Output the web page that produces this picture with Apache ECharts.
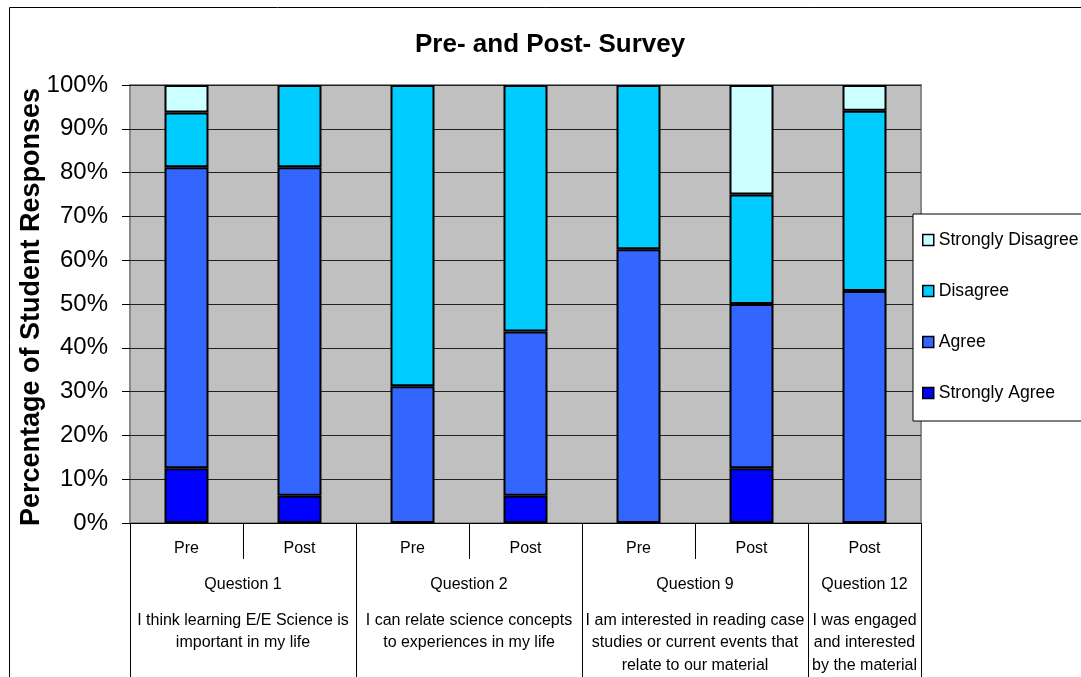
<!DOCTYPE html>
<html>
<head>
<meta charset="utf-8">
<script src="https://cdn.jsdelivr.net/npm/echarts@6/dist/echarts.min.js"></script>
<style>
html,body{margin:0;padding:0;background:#fff;}
#chart{width:1081px;height:677px;}
</style>
</head>
<body>
<div id="chart"></div>
<script>
// ---- data ----
const categories = ['Pre', 'Post', 'Pre', 'Post', 'Pre', 'Post', 'Post'];
const questionLabels = ['Question 1', 'Question 2', 'Question 9', 'Question 12'];
const questionTexts = [
  'I think learning E/E Science is\nimportant in my life',
  'I can relate science concepts\nto experiences in my life',
  'I am interested in reading case\nstudies or current events that\nrelate to our material',
  'I was engaged\nand interested\nby the material'
];
const groupSizes = [2, 2, 2, 1];
const seriesNames = ['Strongly Agree', 'Agree', 'Disagree', 'Strongly Disagree'];
const stronglyAgree    = [12.5, 6.25, 0, 6.25, 0, 12.5, 0];
const agree            = [68.75, 75, 31.25, 37.5, 62.5, 37.5, 52.94];
const disagree         = [12.5, 18.75, 68.75, 56.25, 37.5, 25, 41.18];
const stronglyDisagree = [6.25, 0, 0, 0, 0, 25, 5.88];
const yTicks = [0, 10, 20, 30, 40, 50, 60, 70, 80, 90, 100];

// ---- derived group positions (in category units) ----
const boundaries = [0];
const centers = [];
groupSizes.forEach(function (s) {
  const start = boundaries[boundaries.length - 1];
  centers.push(start + s / 2);
  boundaries.push(start + s);
});
function groupIndex(v) {
  for (let i = 0; i < centers.length; i++) if (Math.abs(centers[i] - v) < 1e-6) return i;
  return -1;
}

const colors = ['#0000ff', '#3366ff', '#00ccff', '#ccffff'];
const values = [stronglyAgree, agree, disagree, stronglyDisagree];
const FONT = 'Liberation Sans, Arial, sans-serif';

const chart = echarts.init(document.getElementById('chart'), null, {renderer: 'canvas'});

const series = seriesNames.map(function (name, i) {
  return {
    name: name,
    type: 'bar',
    stack: 'total',
    xAxisIndex: 0,
    yAxisIndex: 0,
    barWidth: 44,
    data: values[i].map(function (v) { return v === 0 ? null : v; }),
    itemStyle: {color: colors[i], borderColor: '#000', borderWidth: 2},
    emphasis: {disabled: true}
  };
});

const option = {
  animation: false,
  textStyle: {fontFamily: FONT},
  graphic: [{
    type: 'rect',
    shape: {x: 9.5, y: 7.5, width: 1200, height: 800},
    style: {fill: 'none', stroke: '#000', lineWidth: 1},
    silent: true,
    z: -10
  }],
  title: {
    text: 'Pre- and Post- Survey',
    left: 415,
    top: 32,
    padding: 0,
    textStyle: {fontFamily: FONT, fontSize: 26, fontWeight: 'bold', color: '#000'}
  },
  legend: {
    orient: 'vertical',
    left: 913,
    top: 214,
    data: seriesNames.slice().reverse(),
    backgroundColor: '#fff',
    borderColor: '#000',
    borderWidth: 1,
    padding: [17, 10, 19, 9],
    itemGap: 33,
    itemWidth: 11,
    itemHeight: 11,
    icon: 'rect',
    itemStyle: {borderColor: '#000', borderWidth: 1.5},
    textStyle: {fontFamily: FONT, fontSize: 17.6, color: '#000'}
  },
  grid: {
    left: 130,
    top: 85,
    width: 791,
    height: 438,
    outerBoundsMode: 'none',
    containLabel: false,
    show: true,
    backgroundColor: '#c0c0c0',
    borderColor: '#8a8a8a',
    borderWidth: 2
  },
  xAxis: [
    {
      type: 'category',
      data: categories,
      boundaryGap: true,
      axisLine: {show: true, lineStyle: {color: '#000', width: 1}},
      axisTick: {show: true, interval: 0, length: 36, lineStyle: {color: '#000', width: 1}},
      axisLabel: {interval: 0, margin: 16, fontSize: 16, lineHeight: 20, color: '#000', fontFamily: FONT},
      splitLine: {show: false}
    },
    {
      type: 'value',
      position: 'bottom',
      min: 0,
      max: categories.length,
      axisLine: {show: false},
      splitLine: {show: false},
      axisTick: {show: true, customValues: boundaries, length: 160, lineStyle: {color: '#000', width: 1}},
      axisLabel: {
        customValues: centers,
        margin: 52,
        fontSize: 16,
        lineHeight: 20,
        color: '#000',
        fontFamily: FONT,
        formatter: function (v) { const i = groupIndex(v); return i >= 0 ? questionLabels[i] : ''; }
      }
    },
    {
      type: 'value',
      position: 'bottom',
      min: 0,
      max: categories.length,
      axisLine: {show: false},
      splitLine: {show: false},
      axisTick: {show: false},
      axisLabel: {
        customValues: centers,
        margin: 86,
        fontSize: 16,
        lineHeight: 22.5,
        color: '#000',
        fontFamily: FONT,
        align: 'center',
        formatter: function (v) { const i = groupIndex(v); return i >= 0 ? questionTexts[i] : ''; }
      }
    }
  ],
  yAxis: {
    type: 'value',
    min: yTicks[0],
    max: yTicks[yTicks.length - 1],
    interval: yTicks[1] - yTicks[0],
    name: 'Percentage of Student Responses',
    nameLocation: 'middle',
    nameRotate: 90,
    nameGap: 85,
    nameMoveOverlap: false,
    nameTextStyle: {fontFamily: FONT, fontSize: 27, fontWeight: 'bold', color: '#000', padding: [0, 6, 0, 0]},
    axisLine: {show: false},
    axisTick: {show: true, length: 8, lineStyle: {color: '#000', width: 1}},
    axisLabel: {margin: 22, fontSize: 24, color: '#000', fontFamily: FONT, formatter: '{value}%'},
    splitLine: {show: true, lineStyle: {color: '#222', width: 1}}
  },
  series: series
};
chart.setOption(option);
</script>
</body>
</html>
